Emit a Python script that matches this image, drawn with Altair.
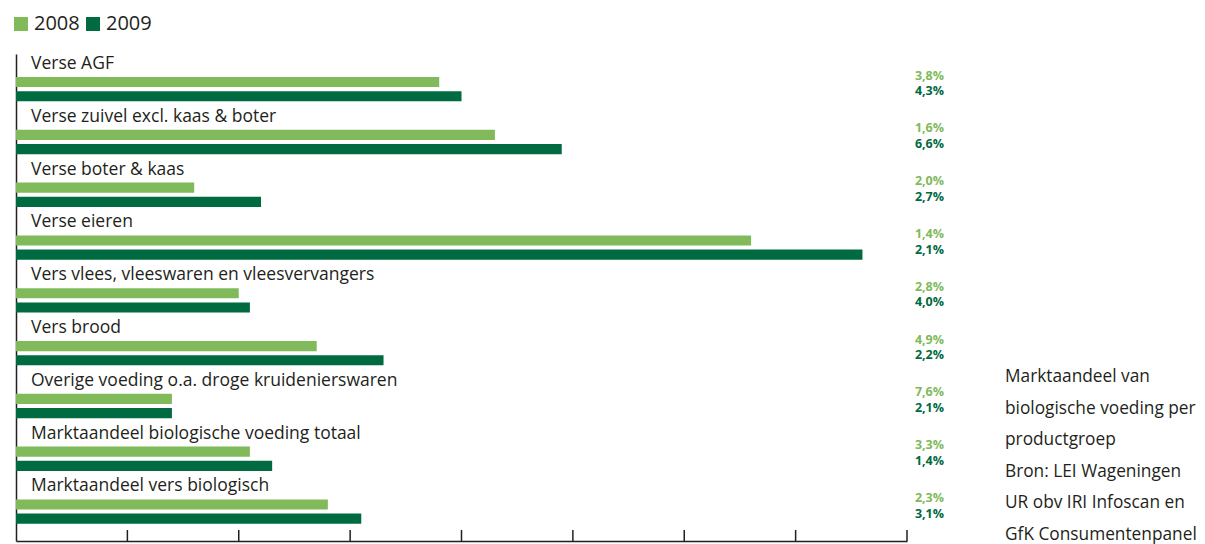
import altair as alt
import pandas as pd

categories = [
    "Verse AGF",
    "Verse zuivel excl. kaas & boter",
    "Verse boter & kaas",
    "Verse eieren",
    "Vers vlees, vleeswaren en vleesvervangers",
    "Vers brood",
    "Overige voeding o.a. droge kruidenierswaren",
    "Marktaandeel biologische voeding totaal",
    "Marktaandeel vers biologisch",
]
years = ["2008", "2009"]
values_2008 = [3.8, 4.3, 1.6, 6.6, 2.0, 2.7, 1.4, 2.1, 2.8]
values_2009 = [4.0, 4.9, 2.2, 7.6, 2.1, 3.3, 1.4, 2.3, 3.1]
labels_2008 = ["3,8%", "1,6%", "2,0%", "1,4%", "2,8%", "4,9%", "7,6%", "3,3%", "2,3%"]
labels_2009 = ["4,3%", "6,6%", "2,7%", "2,1%", "4,0%", "2,2%", "2,1%", "1,4%", "3,1%"]
axis_ticks = [1, 2, 3, 4, 5, 6, 7, 8]
note_lines = [
    "Marktaandeel van",
    "biologische voeding per",
    "productgroep",
    "Bron: LEI Wageningen",
    "UR obv IRI Infoscan en",
    "GfK Consumentenpanel",
]

C08 = "#80ba5a"
C09 = "#006a41"
INK = "#231f20"
FONT = "Open Sans"
W, H = 891, 487

rows = []
for i, c in enumerate(categories):
    rows.append({"category": c, "year": "2008", "value": values_2008[i], "label": labels_2008[i]})
    rows.append({"category": c, "year": "2009", "value": values_2009[i], "label": labels_2009[i]})
df = pd.DataFrame(rows)
cat_df = pd.DataFrame({"category": categories})
tick_df = pd.DataFrame({"t": axis_ticks})

x_scale = alt.Scale(domain=[0, 8], nice=False, zero=True)
y_scale = alt.Scale(domain=categories, paddingInner=0, paddingOuter=0.1117, align=0)
yoff_scale = alt.Scale(domain=years, paddingInner=0.286, paddingOuter=1, align=0.808)
color_scale = alt.Scale(domain=years, range=[C08, C09])

bars = alt.Chart(df).mark_bar().encode(
    x=alt.X("value:Q", scale=x_scale,
            axis=alt.Axis(labels=False, ticks=False, grid=False, domain=True,
                          domainColor=INK, domainWidth=1.5, title=None)),
    y=alt.Y("category:N", scale=y_scale, sort=categories,
            axis=alt.Axis(labels=False, ticks=False, grid=False, domain=True,
                          domainColor=INK, domainWidth=1.5, title=None)),
    yOffset=alt.YOffset("year:N", scale=yoff_scale),
    color=alt.Color("year:N", scale=color_scale,
                    legend=alt.Legend(orient="none", legendX=-5, legendY=-40,
                                      direction="horizontal", title=None,
                                      symbolType="square", symbolSize=196,
                                      symbolStrokeWidth=0, symbolOpacity=1,
                                      labelFont=FONT, labelFontSize=20,
                                      labelColor=INK, labelOffset=3,
                                      columnPadding=3)),
)

group_text = alt.Chart(cat_df).mark_text(
    align="left", baseline="middle", font=FONT, fontSize=17.5, color=INK
).encode(
    x=alt.value(15),
    y=alt.Y("category:N", scale=y_scale, sort=categories, bandPosition=0.19),
    text="category:N",
)

def pct_layer(year, dy):
    return alt.Chart(df[df["year"] == year]).mark_text(
        align="right", baseline="middle", font=FONT, fontSize=12.5,
        fontWeight="bold", dy=dy
    ).encode(
        x=alt.value(W + 37),
        y=alt.Y("category:N", scale=y_scale, sort=categories),
        yOffset=alt.YOffset("year:N", scale=yoff_scale),
        text="label:N",
        color=alt.Color("year:N", scale=color_scale, legend=None),
    )

pct08 = pct_layer("2008", -6.5)
pct09 = pct_layer("2009", -5)

ticks = alt.Chart(tick_df).mark_rule(color=INK, strokeWidth=1.5).encode(
    x=alt.X("t:Q", scale=x_scale),
    y=alt.value(H - 11),
    y2=alt.value(H),
)

notes = alt.Chart(cat_df.head(1)).mark_text(
    text=note_lines, align="left", baseline="middle", font=FONT, fontSize=17.3,
    color=INK, lineHeight=31.6
).encode(
    x=alt.value(W + 98),
    y=alt.value(323),
)

chart = alt.layer(bars, group_text, pct08, pct09, ticks, notes).properties(
    width=W, height=H,
    padding={"left": 8, "top": 46, "right": 290, "bottom": 5},
    autosize=alt.AutoSizeParams(type="none"),
).configure_view(stroke=None)

chart.save("out.html", embed_options={"renderer": "svg", "actions": False})
